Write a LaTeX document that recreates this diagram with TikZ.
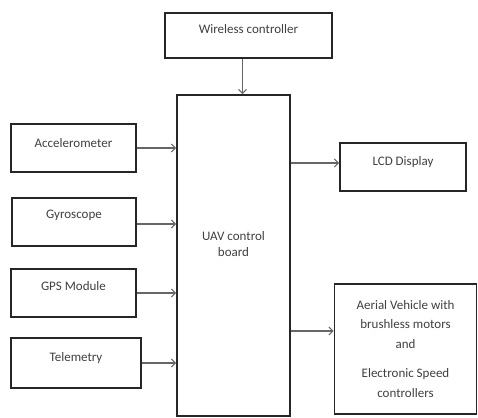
\documentclass[tikz,border=0pt]{standalone}
\usepackage{fontspec}
\setmainfont{Carlito}
\usetikzlibrary{arrows.meta}
\newcommand\tup[2][6pt]{\raisebox{#1}[\height][\depth]{#2}}
\begin{document}
\begin{tikzpicture}[x=1pt,y=-1pt,
  blk/.style={draw=black!85,line width=1.8pt,fill=white,align=center,inner sep=2pt,font=\fontsize{13}{16}\selectfont,text=black!75},
  conn/.style={draw=black!60,line width=1.1pt,-{Straight Barb[length=4pt,width=8pt,line width=1pt]}}]
\useasboundingbox (0,0) rectangle (478,417);
\node[blk,minimum width=167pt,minimum height=45pt] (wc) at (248.5,35.5) {\tup{Wireless controller}};
\node[blk,minimum width=113pt,minimum height=321pt] (main) at (233.5,255.5) {\tup[10pt]{\begin{tabular}{@{}c@{}}UAV control\\board\end{tabular}}};
\node[blk,minimum width=125pt,minimum height=48pt] (acc) at (73.5,148) {\tup[5pt]{Accelerometer}};
\node[blk,minimum width=124pt,minimum height=48pt] (gyro) at (74,222) {\tup[7pt]{Gyroscope}};
\node[blk,minimum width=125pt,minimum height=48pt] (gps) at (73.5,293) {\tup[7pt]{GPS Module}};
\node[blk,minimum width=130pt,minimum height=50pt] (tel) at (76,363) {\tup[5pt]{Telemetry}};
\node[blk,minimum width=126pt,minimum height=48pt] (lcd) at (403,167) {\tup[5pt]{LCD Display}};
\node[blk,minimum width=142pt,minimum height=130pt,font=\fontsize{13}{19.5}\selectfont] (aer) at (405.5,349) {Aerial Vehicle with\\brushless motors\\and\\[10pt]Electronic Speed\\controllers};
\draw[conn] ([xshift=-6pt]wc.south) -- ([xshift=-6pt]wc.south |- main.north);
\draw[conn] (acc.east) -- (acc.east -| main.west);
\draw[conn] ([yshift=-2pt]gyro.east) -- ([yshift=-2pt]gyro.east -| main.west);
\draw[conn] (gps.east) -- (gps.east -| main.west);
\draw[conn] (tel.east) -- (tel.east -| main.west);
\draw[conn] ([yshift=4pt]lcd.west -| main.east) -- ([yshift=4pt]lcd.west);
\draw[conn] ([yshift=18pt]aer.west -| main.east) -- ([yshift=18pt]aer.west);
\end{tikzpicture}
\end{document}
